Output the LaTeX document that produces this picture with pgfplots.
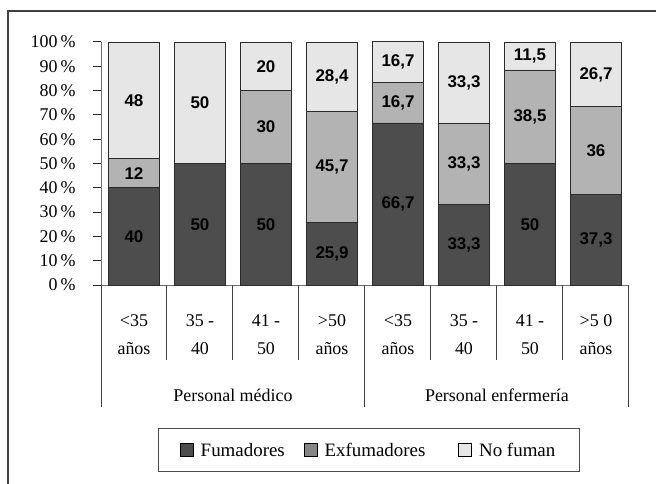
\documentclass[border=0pt]{standalone}
\usepackage{fontspec}
\setmainfont{Liberation Serif}
\newfontfamily\labelfont{Liberation Sans}
\usepackage{pgfplots}
\usepackage{pgfplotstable}
\pgfplotsset{compat=1.18}

\definecolor{fumc}{HTML}{4D4D4D}
\definecolor{exfc}{HTML}{B3B3B3}
\definecolor{exfleg}{HTML}{858585}
\definecolor{nofc}{HTML}{E6E6E6}
\definecolor{edgec}{HTML}{2B2B2B}
\definecolor{axisc}{HTML}{6E6E6E}

% Porcentaje de fumadores, exfumadores y no fumadores por grupo de edad
\pgfplotstableread{
x fum exf nof
0 40 12 48
1 50 0 50
2 50 30 20
3 25.9 45.7 28.4
4 66.7 16.7 16.7
5 33.3 33.3 33.3
6 50 38.5 11.5
7 37.3 36 26.7
}\datos

\pgfplotsset{
  marco/.style={
    at={(101bp,199bp)}, anchor=south west,
    scale only axis, width=528bp, height=243bp,
    xmin=-0.5, xmax=7.5, ymin=0, ymax=100, clip=false,
  },
  etiqueta/.style={
    draw=none, mark=none, point meta=explicit,
    /pgf/number format/assume math mode=true,
    nodes near coords={\pgfmathfloatifflags{\pgfplotspointmeta}{0}{}{\pgfmathprintnumber[use comma,fixed]{\pgfplotspointmeta}}},
    every node near coord/.style={font=\labelfont\bfseries\fontsize{17}{17}\selectfont, text=black, anchor=center, inner sep=0pt},
  },
}

\begin{document}
\begin{tikzpicture}
\useasboundingbox (0bp,0bp) rectangle (656bp,484bp);
\draw[line width=1.5bp, color=black!75] (8bp,-10bp) -- (8bp,473bp) -- (670bp,473bp);
\begin{axis}[
  marco,
  ybar stacked, bar width=51bp,
  axis x line*=bottom, axis y line*=left,
  axis line style={color=axisc, line width=1bp},
  tick align=outside, major tick length=8bp,
  xtick={0,...,7},
  xticklabels={{<35\\años},{35 -\\40},{41 -\\50},{>50\\años},{<35\\años},{35 -\\40},{41 -\\50},{>5 0\\años}},
  xtick style={draw=none},
  xticklabel style={align=center, font=\fontsize{18}{28}\selectfont, anchor=north, yshift=-18bp},
  ytick={0,10,...,100},
  ytick style={color=black!85, line width=1bp},
  /pgf/number format/assume math mode=true,
  yticklabel={\pgfmathprintnumber{\tick}\,\%},
  yticklabel style={font=\fontsize{18}{20}\selectfont, anchor=east, xshift=-14bp},
  legend image code/.code={\draw[#1, draw=black, line width=0.7bp] (0bp,-6.5bp) rectangle (13bp,6.5bp);},
  legend columns=3,
  legend style={at={(axis description cs:0.507,-0.68)}, anchor=center, draw=black!70, line width=1bp,
    font=\fontsize{19}{21}\selectfont, inner xsep=22bp, inner ysep=12bp,
    /tikz/every odd column/.append style={column sep=5bp},
    /tikz/column 2/.append style={column sep=17bp},
    /tikz/column 4/.append style={column sep=31bp}},
]
\addplot[fill=fumc, draw=edgec, line width=0.8bp] table[x=x, y=fum]{\datos};
\addplot[fill=exfc, draw=edgec, line width=0.8bp,
  legend image code/.code={\draw[fill=exfleg, draw=black, line width=0.7bp] (0bp,-6.5bp) rectangle (13bp,6.5bp);}] table[x=x, y=exf]{\datos};
\addplot[fill=nofc, draw=edgec, line width=0.8bp] table[x=x, y=nof]{\datos};
\legend{Fumadores, Exfumadores, No fuman}
% separadores de categorías y de grupos
\pgfplotsinvokeforeach{0.5,1.5,2.5,4.5,5.5,6.5}{
  \draw[color=black!75, line width=1bp] (axis cs:#1,0) -- ([yshift=-75bp]axis cs:#1,0);
}
\pgfplotsinvokeforeach{-0.5,3.5,7.5}{
  \draw[color=black!75, line width=1bp] (axis cs:#1,0) -- ([yshift=-122bp]axis cs:#1,0);
}
\node[font=\fontsize{18}{20}\selectfont] at (axis cs:1.5,0) [yshift=-110bp] {Personal médico};
\node[font=\fontsize{18}{20}\selectfont] at (axis cs:5.5,0) [yshift=-110bp] {Personal enfermería};
\end{axis}
% valores de cada segmento, centrados en su tramo
\begin{axis}[marco, hide axis]
\addplot[etiqueta] table[x=x, y expr=\thisrow{fum}/2, meta=fum]{\datos};
\addplot[etiqueta] table[x=x, y expr=\thisrow{fum}+\thisrow{exf}/2, meta=exf]{\datos};
\addplot[etiqueta] table[x=x, y expr=\thisrow{fum}+\thisrow{exf}+\thisrow{nof}/2, meta=nof]{\datos};
\end{axis}
\end{tikzpicture}
\end{document}
